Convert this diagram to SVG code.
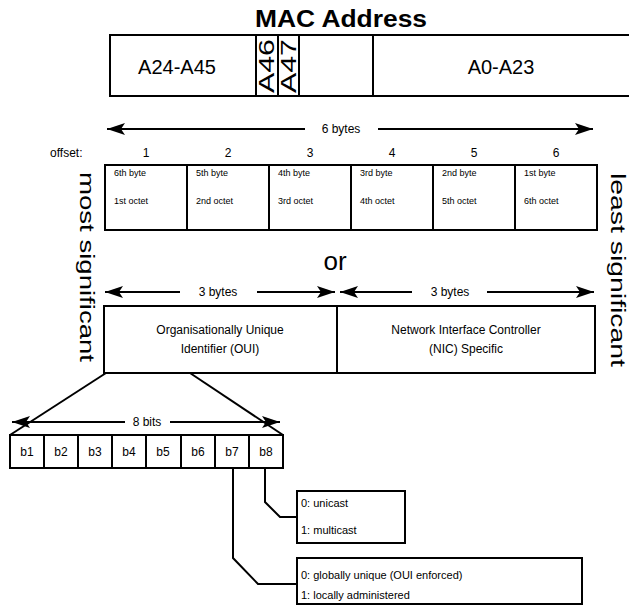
<svg xmlns="http://www.w3.org/2000/svg" width="629" height="616" viewBox="0 0 629 616">
<style>
.box{fill:#fff;stroke:#000;stroke-width:2}
.ln{stroke:#000;stroke-width:2;fill:none}
.t{font-family:"Liberation Sans",Arial,Helvetica,sans-serif;fill:#000}
.m{text-anchor:middle}
.s9{font-size:9px}
.s11{font-size:11px}
.s12{font-size:12px}
.s20{font-size:20px}
</style>
<defs>
<marker id="ah" viewBox="0 0 18 12" refX="18" refY="6" markerWidth="18" markerHeight="12" markerUnits="userSpaceOnUse" orient="auto-start-reverse">
<path d="M0,0 L18,6 L0,12 L4,6 Z" fill="#000"/>
</marker>
</defs>
<rect width="629" height="616" fill="#fff"/>

<g id="title"><text class="t m" x="341" y="27" font-size="23" font-weight="bold" textLength="172" lengthAdjust="spacingAndGlyphs">MAC Address</text></g>

<g id="mac-box">
<rect class="box" x="110" y="35" width="530" height="61"/>
<line class="ln" x1="256" y1="35" x2="256" y2="96"/>
<line class="ln" x1="278" y1="35" x2="278" y2="96"/>
<line class="ln" x1="299" y1="35" x2="299" y2="96"/>
<line class="ln" x1="373" y1="35" x2="373" y2="96"/>
<text class="t m s20" x="177" y="74">A24-A45</text>
<text class="t m" font-size="22" transform="translate(274,66) rotate(-90)" textLength="54" lengthAdjust="spacingAndGlyphs">A46</text>
<text class="t m" font-size="22" transform="translate(296,66) rotate(-90)" textLength="54" lengthAdjust="spacingAndGlyphs">A47</text>
<text class="t m s20" x="501" y="74">A0-A23</text>
</g>

<g id="connectors">
<line class="ln" x1="107" y1="129" x2="305" y2="129" marker-start="url(#ah)"/>
<line class="ln" x1="378" y1="129" x2="593" y2="129" marker-end="url(#ah)"/>
<line class="ln" x1="105" y1="292" x2="180" y2="292" marker-start="url(#ah)"/>
<line class="ln" x1="257" y1="292" x2="335" y2="292" marker-end="url(#ah)"/>
<line class="ln" x1="340" y1="292" x2="412" y2="292" marker-start="url(#ah)"/>
<line class="ln" x1="487" y1="292" x2="594" y2="292" marker-end="url(#ah)"/>
<line class="ln" x1="106" y1="373" x2="10" y2="435"/>
<line class="ln" x1="190" y1="373" x2="283" y2="435"/>
<line class="ln" x1="12" y1="422" x2="125" y2="422" marker-start="url(#ah)"/>
<line class="ln" x1="170" y1="422" x2="280" y2="422" marker-end="url(#ah)"/>
<polyline class="ln" points="265,468 265,502 280,517 297,517"/>
<polyline class="ln" points="233,468 233,558 258,584 297,584"/>
</g>

<g id="labels">
<text class="t m s12" x="341" y="133">6 bytes</text>
<text class="t s12" x="50" y="157">offset:</text>
<text class="t m s12" x="146" y="157">1</text>
<text class="t m s12" x="228" y="157">2</text>
<text class="t m s12" x="310" y="157">3</text>
<text class="t m s12" x="392" y="157">4</text>
<text class="t m s12" x="474" y="157">5</text>
<text class="t m s12" x="556" y="157">6</text>
<text class="t m" font-size="26" x="335" y="270">or</text>
<text class="t m s12" x="218" y="296">3 bytes</text>
<text class="t m s12" x="450" y="296">3 bytes</text>
<text class="t m s12" x="147" y="426">8 bits</text>
<text class="t" font-size="21" transform="translate(80,172) rotate(90)" textLength="190" lengthAdjust="spacingAndGlyphs">most significant</text>
<text class="t" font-size="21" transform="translate(611,173) rotate(90)" textLength="194" lengthAdjust="spacingAndGlyphs">least significant</text>
</g>

<g id="bytes">
<rect class="box" x="105" y="165" width="492" height="65"/>
<line class="ln" x1="187" y1="165" x2="187" y2="230"/>
<line class="ln" x1="269" y1="165" x2="269" y2="230"/>
<line class="ln" x1="351" y1="165" x2="351" y2="230"/>
<line class="ln" x1="433" y1="165" x2="433" y2="230"/>
<line class="ln" x1="515" y1="165" x2="515" y2="230"/>
<text class="t s9" x="114" y="176">6th byte</text><text class="t s9" x="114" y="204">1st octet</text>
<text class="t s9" x="196" y="176">5th byte</text><text class="t s9" x="196" y="204">2nd octet</text>
<text class="t s9" x="278" y="176">4th byte</text><text class="t s9" x="278" y="204">3rd octet</text>
<text class="t s9" x="360" y="176">3rd byte</text><text class="t s9" x="360" y="204">4th octet</text>
<text class="t s9" x="442" y="176">2nd byte</text><text class="t s9" x="442" y="204">5th octet</text>
<text class="t s9" x="524" y="176">1st byte</text><text class="t s9" x="524" y="204">6th octet</text>
</g>

<g id="oui">
<rect class="box" x="104" y="306" width="233" height="67"/>
<text class="t m s12" x="220" y="334">Organisationally Unique</text>
<text class="t m s12" x="220" y="353">Identifier (OUI)</text>
</g>
<g id="nic">
<rect class="box" x="337" y="306" width="258" height="67"/>
<text class="t m s12" x="466" y="334">Network Interface Controller</text>
<text class="t m s12" x="466" y="353">(NIC) Specific</text>
</g>

<g id="bits">
<rect class="box" x="10" y="435" width="273" height="33"/>
<line class="ln" x1="44" y1="435" x2="44" y2="468"/>
<line class="ln" x1="78" y1="435" x2="78" y2="468"/>
<line class="ln" x1="112" y1="435" x2="112" y2="468"/>
<line class="ln" x1="146" y1="435" x2="146" y2="468"/>
<line class="ln" x1="181" y1="435" x2="181" y2="468"/>
<line class="ln" x1="215" y1="435" x2="215" y2="468"/>
<line class="ln" x1="249" y1="435" x2="249" y2="468"/>
<text class="t m s12" x="27" y="456">b1</text>
<text class="t m s12" x="61" y="456">b2</text>
<text class="t m s12" x="95" y="456">b3</text>
<text class="t m s12" x="129" y="456">b4</text>
<text class="t m s12" x="163" y="456">b5</text>
<text class="t m s12" x="198" y="456">b6</text>
<text class="t m s12" x="232" y="456">b7</text>
<text class="t m s12" x="266" y="456">b8</text>
</g>

<g id="cast">
<rect class="box" x="297" y="491" width="108" height="52"/>
<text class="t s11" x="301" y="507">0: unicast</text>
<text class="t s11" x="301" y="534">1: multicast</text>
</g>
<g id="admin">
<rect class="box" x="297" y="558" width="285" height="46"/>
<text class="t s11" x="301" y="579">0: globally unique (OUI enforced)</text>
<text class="t s11" x="301" y="599">1: locally administered</text>
</g>
</svg>
